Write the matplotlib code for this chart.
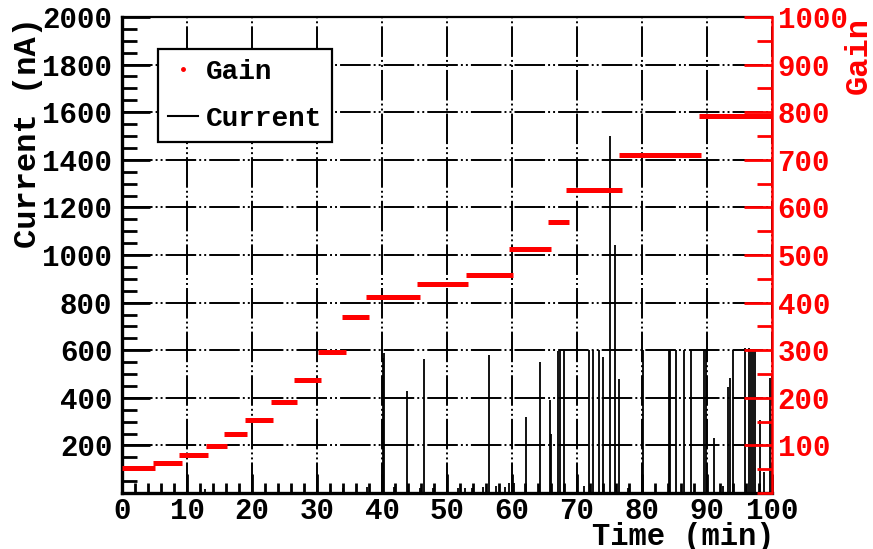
import matplotlib
matplotlib.use("Agg")
import matplotlib.pyplot as plt
from matplotlib.lines import Line2D
from matplotlib.ticker import MultipleLocator, FixedLocator

plt.rcParams["font.family"] = ["Liberation Mono", "DejaVu Sans Mono"]
plt.rcParams["font.weight"] = "bold"
plt.rcParams["lines.scale_dashes"] = False

# Gain plateaus: start time, end time (min) and gain value
gain_start = [0.0, 4.7, 8.8, 12.9, 15.7, 18.9, 22.9, 26.5, 30.2, 33.9,
              37.6, 45.4, 52.9, 59.6, 65.6, 68.3, 76.5, 88.7]
gain_end = [5.1, 9.2, 13.3, 16.2, 19.3, 23.2, 26.9, 30.6, 34.4, 38.0,
            45.8, 53.2, 60.2, 66.0, 68.8, 76.9, 89.0, 100.0]
gain_value = [52, 64, 80, 99, 123, 153, 192, 237, 296, 369,
              412, 439, 458, 512, 570, 637, 711, 792]

# Current discharge spikes: time (min) and peak current (nA)
spike_time = [12.8, 34.0, 37.7, 40.1, 40.3, 41.9, 43.8, 45.8, 46.4, 47.9,
              51.7, 52.8, 53.9, 55.5, 56.4, 57.5, 58.9, 59.5, 60.3, 62.2,
              64.3, 65.8, 66.0, 67.0, 67.4, 68.0, 71.1, 71.9, 72.4, 73.4,
              74.0, 75.1, 75.8, 76.5, 77.9, 80.1, 84.1, 84.3, 85.3, 86.4,
              87.5, 89.5, 89.8, 91.0, 92.5, 93.3, 93.5, 94.0, 95.8, 96.4,
              96.7, 97.0, 97.4, 98.2, 98.7, 99.7]
spike_current = [17, 20, 27, 567, 590, 25, 430, 20, 562, 20,
                 20, 22, 22, 25, 580, 30, 25, 40, 40, 318,
                 552, 390, 250, 595, 600, 600, 30, 600, 600, 600,
                 573, 1500, 1040, 478, 20, 600, 600, 600, 600, 600,
                 600, 600, 600, 230, 30, 447, 482, 600, 610, 610,
                 600, 600, 600, 307, 90, 482]

x_ticks = list(range(0, 101, 10))
current_ticks = list(range(200, 2001, 200))
gain_ticks = list(range(100, 1001, 100))

RED = "#ff0000"
FS_TICK = 21
FS_TITLE = 23
FS_LEG = 20

fig = plt.figure(figsize=(8.73, 5.49), dpi=100)
ax = fig.add_axes([122 / 873, 56 / 549, 650 / 873, 476 / 549])
ax2 = ax.twinx()

# current spikes
ax.vlines(spike_time, 0, spike_current, colors="black", linewidth=1.3, zorder=3)

# gain plateaus on the right-hand scale
ax2.hlines(gain_value, gain_start, gain_end, colors=RED, linewidth=3.6,
           zorder=4)

ax.set_xlim(0, 100)
ax.set_ylim(0, 2000)
ax2.set_ylim(0, 1000)

grid_dash = (0, (22, 2.2, 1.4, 2.2, 1.4, 2.2))
ax.grid(True, which="major", color="black", linewidth=1.4, linestyle=grid_dash)
ax.set_axisbelow(True)

ax.xaxis.set_major_locator(FixedLocator(x_ticks))
ax.xaxis.set_minor_locator(MultipleLocator(2))
ax.yaxis.set_major_locator(FixedLocator(current_ticks))
ax.yaxis.set_minor_locator(MultipleLocator(50))
ax2.yaxis.set_major_locator(FixedLocator(gain_ticks))
ax2.yaxis.set_minor_locator(MultipleLocator(50))

ax.tick_params(axis="x", which="major", direction="in", length=14, width=2,
               labelsize=FS_TICK, pad=3, top=False)
ax.tick_params(axis="x", which="minor", direction="in", length=7, width=2,
               top=False)
ax.tick_params(axis="y", which="major", direction="in", length=20, width=2,
               labelsize=FS_TICK, pad=7, right=False)
ax.tick_params(axis="y", which="minor", direction="in", length=11, width=2,
               right=False)
ax2.tick_params(axis="y", which="major", direction="in", length=20, width=2,
                color=RED, labelcolor=RED, labelsize=FS_TICK, pad=4)
ax2.tick_params(axis="y", which="minor", direction="in", length=11, width=2,
                color=RED)

for lab in ax.get_xticklabels() + ax.get_yticklabels() + ax2.get_yticklabels():
    lab.set_fontweight("bold")

for side in ("left", "bottom"):
    ax.spines[side].set_linewidth(2.4)
ax.spines["top"].set_linewidth(1.6)
ax2.spines["top"].set_visible(False)
ax2.spines["left"].set_visible(False)
ax2.spines["bottom"].set_visible(False)
ax.spines["right"].set_visible(False)
ax2.spines["right"].set_color(RED)
ax2.spines["right"].set_linewidth(1.8)

ax.set_ylabel("Current (nA)", fontsize=FS_TITLE, fontweight="bold", loc="top")
ax.yaxis.set_label_coords(-0.122, 1.0)
ax2.set_ylabel("Gain", fontsize=FS_TITLE, fontweight="bold", color=RED,
               loc="top")
ax2.yaxis.set_label_coords(1.110, 1.0)
ax.set_xlabel("Time (min)", fontsize=22, fontweight="bold", loc="right")
ax.xaxis.set_label_coords(1.004, -0.060)

handles = [
    Line2D([], [], marker="o", markersize=2.5, color=RED, linestyle="none"),
    Line2D([], [], color="black", linewidth=1.5),
]
leg = ax2.legend(handles, ["Gain", "Current"], loc="upper left",
                 bbox_to_anchor=(0.0554, 0.9328), borderaxespad=0,
                 fontsize=FS_LEG, frameon=True, fancybox=False,
                 edgecolor="black", framealpha=1, handlelength=1.08,
                 handletextpad=0.29, labelspacing=0.75, borderpad=0.36)
leg.get_frame().set_linewidth(1.6)
for t in leg.get_texts():
    t.set_fontweight("bold")

fig.savefig("out.png", dpi=100)
